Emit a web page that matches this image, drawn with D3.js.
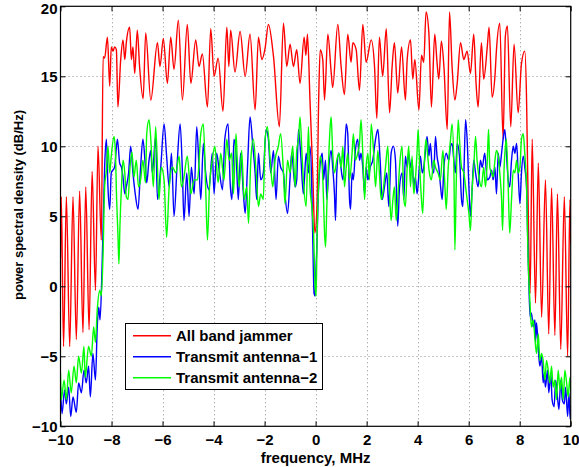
<!DOCTYPE html>
<html><head><meta charset="utf-8">
<script src="https://cdn.jsdelivr.net/npm/d3@7/dist/d3.min.js"></script>
<style>
html,body{margin:0;padding:0;background:#fff;}
svg text{font-family:"Liberation Sans",Arial,Helvetica,sans-serif;font-weight:bold;}
</style></head>
<body>
<svg id="chart" width="579" height="467"></svg>
<script>
// ---- data ----
const seriesNames = ["All band jammer", "Transmit antenna\u22121", "Transmit antenna\u22122"];
const seriesColors = ["#ff0000", "#0000ff", "#00ff00"];
const xTicks = [-10,-8,-6,-4,-2,0,2,4,6,8,10];
const yTicks = [-10,-5,0,5,10,15,20];

const jammerFreq = [-10,-9.97,-9.88,-9.77,-9.64,-9.51,-9.38,-9.25,-9.12,-9.01,-8.88,-8.76,-8.63,-8.53,-8.40,-8.33,-8.27,-8.16,-8.07,-8.01,-7.94,-7.88,-7.81,-7.75,-7.64,-7.55,-7.48,-7.42,-7.29,-7.22,-7.16,-7.09,-6.99,-6.90,-6.76,-6.66,-6.46,-6.20,-6.10,-5.97,-5.81,-5.68,-5.55,-5.38,-5.22,-5.03,-4.89,-4.70,-4.57,-4.44,-4.24,-4.11,-3.98,-3.82,-3.63,-3.48,-3.40,-3.33,-3.16,-2.96,-2.76,-2.57,-2.37,-2.24,-2.11,-1.98,-1.85,-1.65,-1.42,-1.26,-1.13,-1.00,-0.87,-0.74,-0.61,-0.45,-0.38,-0.32,-0.22,-0.11,-0.03,0.05,0.12,0.18,0.28,0.35,0.48,0.61,0.67,0.87,1.00,1.13,1.26,1.39,1.46,1.59,1.72,1.85,1.98,2.18,2.31,2.40,2.50,2.63,2.77,2.90,3.00,3.09,3.22,3.37,3.52,3.59,3.72,3.81,3.89,4.05,4.15,4.24,4.33,4.44,4.54,4.67,4.76,4.83,4.93,5.03,5.16,5.25,5.35,5.46,5.55,5.68,5.81,5.94,6.07,6.20,6.29,6.37,6.50,6.59,6.73,6.80,6.92,7.03,7.09,7.22,7.35,7.44,7.52,7.65,7.78,7.94,8.07,8.20,8.27,8.31,8.41,8.49,8.62,8.73,8.86,9.01,9.14,9.25,9.38,9.48,9.61,9.75,9.88,9.97,10];
const jammerPSD = [2.0,6.4,-4.3,6.4,-4.3,6.4,-3.8,6.8,-3.3,7.1,-3.1,8.2,-0.3,10.0,3.3,16.4,16.3,17.8,14.3,17.1,16.8,17.1,16.9,12.8,16.2,17.6,16.2,17.4,18.5,16.2,17.1,15.2,18.3,15.7,13.4,18.1,13.3,17.4,15.7,17.7,14.5,17.8,15.5,19.0,13.3,18.7,14.5,17.6,15.7,16.6,12.8,18.4,15.0,16.3,12.5,18.5,15.7,18.3,15.3,18.2,15.0,18.0,12.6,17.8,16.2,17.0,18.7,16.4,11.4,18.8,15.7,17.3,15.7,16.9,14.5,17.8,16.5,18.0,13.3,8.0,3.8,5.5,13.3,16.9,16.2,13.3,18.0,15.3,14.2,18.7,15.7,13.7,18.0,16.0,17.4,16.9,14.0,18.7,16.0,17.6,15.7,12.0,17.8,15.0,18.4,12.4,15.7,17.4,13.8,17.1,13.3,16.2,17.6,14.8,16.2,12.6,16.5,16.0,19.6,18.1,12.8,18.0,16.0,14.8,17.5,15.7,11.2,19.6,15.7,13.3,14.5,17.4,16.2,16.8,15.2,18.0,14.5,12.8,17.4,14.8,17.1,18.5,13.5,15.0,16.9,18.8,10.5,17.9,18.6,11.4,17.3,12.4,15.9,16.8,13.3,8.6,-0.5,10.5,-1.2,8.8,-2.2,7.6,-3.4,7.0,-3.5,6.6,-4.5,6.4,-5.0,6.2,3.0];

const ant1Freq = [-10,-9.94,-9.84,-9.77,-9.68,-9.60,-9.51,-9.38,-9.29,-9.18,-9.08,-8.99,-8.90,-8.83,-8.73,-8.63,-8.56,-8.50,-8.45,-8.37,-8.32,-8.27,-8.20,-8.14,-8.07,-8.01,-7.88,-7.77,-7.68,-7.61,-7.55,-7.48,-7.42,-7.33,-7.25,-7.16,-7.07,-6.96,-6.86,-6.77,-6.67,-6.62,-6.53,-6.46,-6.40,-6.27,-6.20,-6.07,-5.94,-5.84,-5.74,-5.65,-5.55,-5.42,-5.31,-5.22,-5.16,-5.05,-4.96,-4.87,-4.76,-4.66,-4.57,-4.50,-4.40,-4.31,-4.18,-4.05,-3.98,-3.88,-3.78,-3.65,-3.56,-3.43,-3.35,-3.28,-3.20,-3.12,-3.03,-2.94,-2.83,-2.76,-2.67,-2.57,-2.46,-2.37,-2.31,-2.24,-2.15,-2.05,-1.94,-1.85,-1.76,-1.65,-1.55,-1.46,-1.37,-1.26,-1.20,-1.10,-1.00,-0.94,-0.80,-0.74,-0.67,-0.58,-0.48,-0.37,-0.28,-0.22,-0.15,-0.11,-0.06,-0.02,0.02,0.05,0.09,0.15,0.26,0.31,0.39,0.44,0.52,0.61,0.67,0.74,0.78,0.83,0.91,0.96,1.07,1.13,1.20,1.26,1.33,1.37,1.43,1.48,1.56,1.65,1.72,1.78,1.85,1.92,1.98,2.05,2.14,2.24,2.35,2.44,2.53,2.61,2.70,2.79,2.87,2.96,3.05,3.13,3.22,3.29,3.39,3.46,3.52,3.59,3.65,3.72,3.78,3.85,3.91,3.98,4.11,4.18,4.24,4.31,4.37,4.44,4.50,4.57,4.63,4.70,4.76,4.83,4.90,4.96,5.03,5.12,5.22,5.29,5.35,5.42,5.48,5.55,5.64,5.72,5.77,5.82,5.88,5.94,6.01,6.07,6.14,6.20,6.27,6.37,6.46,6.53,6.63,6.73,6.83,6.90,6.96,7.03,7.09,7.16,7.22,7.29,7.35,7.42,7.48,7.55,7.61,7.68,7.75,7.81,7.88,7.94,8.01,8.07,8.14,8.20,8.27,8.31,8.36,8.41,8.46,8.53,8.60,8.62,8.66,8.73,8.79,8.86,8.92,8.96,9.01,9.09,9.14,9.22,9.27,9.35,9.41,9.48,9.54,9.61,9.67,9.75,9.80,9.88,9.93,9.98,10];
const ant1PSD = [-7.2,-9.1,-7.4,-8.4,-7.2,-9.3,-7.9,-9.0,-6.9,-7.6,-6.0,-6.9,-5.7,-7.9,-4.8,-6.7,-2.9,-1.5,-2.4,1.4,5.0,8.5,10.5,7.1,5.5,8.1,8.5,10.5,8.8,8.5,7.8,6.6,7.1,8.1,10.0,8.1,6.6,5.5,8.5,10.5,8.5,7.4,9.0,9.7,8.1,10.7,6.2,8.5,11.6,9.3,7.1,9.5,5.0,9.0,11.6,8.1,4.7,8.1,5.0,8.5,6.6,11.4,8.5,6.2,10.2,8.1,6.9,9.5,6.6,9.5,8.3,6.9,10.5,11.6,7.4,6.2,10.5,9.5,6.2,9.5,6.6,5.2,8.5,12.1,10.0,8.1,6.2,9.5,7.6,8.1,11.2,10.5,8.1,9.7,6.2,9.3,8.5,8.1,6.6,5.2,7.8,9.5,7.1,7.6,11.2,9.3,6.6,9.5,8.1,10.0,7.1,3.3,-0.5,-0.7,1.5,2.8,5.7,8.1,9.5,7.6,9.0,6.2,8.5,9.7,8.5,6.6,4.7,8.1,9.5,9.0,7.6,9.0,11.6,10.9,6.2,5.5,8.1,7.6,9.7,10.5,9.0,9.5,8.5,6.6,8.5,7.6,8.5,9.0,10.5,11.2,9.0,6.2,7.1,8.1,5.7,9.5,10.0,9.0,4.3,7.1,8.1,6.2,9.3,8.5,9.5,8.5,9.0,7.1,7.8,6.6,9.3,8.1,8.5,9.7,10.7,9.3,10.2,8.5,8.1,10.7,9.3,8.5,7.1,6.2,8.5,9.5,9.0,10.0,10.2,9.0,8.1,10.2,9.3,6.2,5.7,8.5,11.9,10.5,7.1,5.0,7.1,9.0,8.1,7.1,9.0,8.5,9.5,7.6,7.8,8.3,7.6,8.5,6.6,9.5,8.5,9.5,10.5,11.2,9.5,7.6,7.1,9.0,10.0,9.5,10.2,8.1,5.9,8.1,9.3,8.5,7.1,3.8,0.2,-2.2,-1.9,-2.9,-2.4,-4.0,-2.6,-4.5,-5.7,-5.0,-6.9,-6.2,-7.2,-6.0,-7.6,-6.2,-8.1,-8.6,-6.7,-7.9,-8.8,-6.7,-8.1,-8.4,-7.2,-9.3,-7.6,-9.5,-8.5];

const ant2Freq = [-10,-9.97,-9.86,-9.77,-9.68,-9.58,-9.47,-9.38,-9.29,-9.18,-9.08,-9.03,-8.90,-8.79,-8.70,-8.63,-8.56,-8.46,-8.40,-8.33,-8.27,-8.20,-8.14,-8.07,-8.01,-7.90,-7.85,-7.80,-7.75,-7.71,-7.67,-7.61,-7.55,-7.48,-7.42,-7.35,-7.29,-7.20,-7.12,-7.03,-6.94,-6.86,-6.77,-6.67,-6.62,-6.53,-6.46,-6.36,-6.27,-6.14,-6.05,-5.94,-5.84,-5.74,-5.61,-5.48,-5.35,-5.26,-5.16,-5.03,-4.89,-4.76,-4.63,-4.50,-4.40,-4.31,-4.24,-4.16,-4.05,-3.95,-3.82,-3.72,-3.59,-3.48,-3.39,-3.29,-3.22,-3.12,-3.07,-2.99,-2.90,-2.80,-2.70,-2.63,-2.54,-2.44,-2.33,-2.24,-2.15,-2.05,-1.98,-1.89,-1.78,-1.68,-1.59,-1.46,-1.37,-1.26,-1.20,-1.10,-1.00,-0.90,-0.80,-0.74,-0.67,-0.61,-0.54,-0.48,-0.37,-0.28,-0.22,-0.15,-0.08,-0.02,0.02,0.06,0.12,0.18,0.26,0.31,0.35,0.39,0.44,0.52,0.57,0.61,0.67,0.74,0.83,0.91,1.00,1.07,1.13,1.20,1.26,1.33,1.43,1.48,1.56,1.65,1.72,1.78,1.85,1.92,1.98,2.05,2.11,2.18,2.27,2.35,2.44,2.50,2.57,2.63,2.74,2.83,2.90,2.96,3.03,3.09,3.16,3.22,3.29,3.39,3.46,3.52,3.59,3.65,3.72,3.78,3.85,3.91,3.98,4.02,4.07,4.15,4.20,4.28,4.33,4.41,4.46,4.54,4.63,4.70,4.80,4.89,4.99,5.07,5.12,5.20,5.29,5.35,5.42,5.46,5.51,5.59,5.64,5.72,5.81,5.88,5.94,6.01,6.07,6.14,6.20,6.27,6.33,6.42,6.50,6.59,6.66,6.73,6.78,6.83,6.90,6.96,7.03,7.09,7.16,7.22,7.29,7.33,7.39,7.44,7.48,7.55,7.61,7.68,7.75,7.81,7.88,7.94,8.01,8.07,8.14,8.20,8.27,8.33,8.40,8.46,8.53,8.60,8.66,8.73,8.79,8.86,8.92,8.99,9.05,9.12,9.18,9.25,9.31,9.38,9.44,9.51,9.58,9.64,9.71,9.77,9.84,9.90,9.97,10];
const ant2PSD = [-6.2,-8.1,-6.7,-8.1,-6.0,-7.6,-5.7,-6.9,-5.0,-6.2,-4.3,-6.5,-4.3,-5.0,-2.9,-4.0,-1.7,-0.3,-0.7,2.4,7.1,8.3,10.0,8.1,9.3,10.7,9.7,6.2,3.8,1.6,4.3,7.1,9.0,8.1,6.4,6.2,8.1,9.6,7.8,9.0,7.1,7.6,9.0,7.4,10.9,11.9,10.5,7.1,11.4,6.2,8.5,7.6,3.5,7.1,8.5,8.1,9.3,7.1,7.8,9.3,6.6,7.6,7.6,10.9,11.6,7.1,3.3,7.1,9.0,10.0,7.4,9.5,7.6,10.5,9.0,9.5,6.6,10.9,9.0,7.1,9.7,6.2,7.1,4.5,9.0,10.5,8.1,5.7,6.6,6.2,10.5,11.4,9.0,7.1,9.0,10.0,10.9,8.1,5.9,9.0,8.1,10.0,7.1,9.7,10.5,12.1,9.7,7.6,5.7,11.4,7.1,5.7,3.8,0.0,-0.7,3.8,7.4,9.3,8.5,6.2,3.8,2.8,5.7,9.5,11.4,12.1,9.5,8.1,9.0,9.5,8.5,10.0,7.1,8.5,9.5,7.6,9.5,10.9,9.0,9.5,10.2,11.9,9.5,6.2,8.5,9.5,7.6,11.6,9.7,7.1,9.7,8.1,6.2,6.6,8.5,10.0,6.6,4.7,6.2,7.1,4.7,6.2,8.5,10.0,6.2,5.7,8.5,10.0,7.1,9.3,6.6,7.6,9.7,11.2,9.0,6.2,5.2,9.5,10.5,9.0,8.1,7.6,9.0,8.5,8.1,7.6,9.7,7.1,5.5,8.5,10.5,11.6,8.5,2.6,7.1,11.9,10.5,8.5,8.1,7.1,6.2,5.2,4.0,7.1,8.5,10.7,9.0,7.6,7.1,8.5,7.1,9.0,11.2,8.5,8.1,7.8,9.0,9.7,9.3,8.1,6.2,4.0,8.5,10.0,10.5,7.1,3.8,6.2,8.3,8.1,9.0,8.1,8.5,10.5,10.9,9.5,7.1,1.9,-1.0,-2.9,-2.4,-3.8,-4.8,-3.4,-5.3,-4.8,-5.3,-6.7,-5.3,-6.0,-6.9,-5.7,-7.2,-6.7,-8.1,-6.0,-7.4,-6.5,-8.1,-6.0,-6.9,-7.9,-6.5,-7.5];

// ---- chart ----
const W = 579, H = 467;
const m = {left: 60.5, right: 8.3, top: 6.3, bottom: 40.7};
const svg = d3.select("#chart");
const x = d3.scaleLinear().domain([-10, 10]).range([m.left, W - m.right]);
const y = d3.scaleLinear().domain([-10, 20]).range([H - m.bottom, m.top]);

svg.append("defs").append("clipPath").attr("id", "clip")
  .append("rect").attr("x", m.left).attr("y", m.top)
  .attr("width", x(10) - x(-10)).attr("height", y(-10) - y(20));

// grid
const grid = svg.append("g").attr("stroke", "#000").attr("stroke-width", 0.8)
  .attr("stroke-dasharray", "1,3").attr("opacity", 0.55);
grid.selectAll("line.gx").data(xTicks.slice(1, -1)).join("line")
  .attr("x1", d => Math.round(x(d)) + 0.5).attr("x2", d => Math.round(x(d)) + 0.5)
  .attr("y1", y(20)).attr("y2", y(-10));
grid.selectAll("line.gy").data(yTicks.slice(1, -1)).join("line")
  .attr("y1", d => Math.round(y(d)) + 0.5).attr("y2", d => Math.round(y(d)) + 0.5)
  .attr("x1", x(-10)).attr("x2", x(10));

// lines
const series = [
  {f: jammerFreq, v: jammerPSD},
  {f: ant1Freq, v: ant1PSD},
  {f: ant2Freq, v: ant2PSD}
];
const line = d3.line().x(d => x(d[0])).y(d => y(d[1])).curve(d3.curveMonotoneX);
const lg = svg.append("g").attr("clip-path", "url(#clip)");
series.forEach((s, i) => {
  lg.append("path")
    .datum(s.f.map((f, k) => [f, s.v[k]]))
    .attr("d", line)
    .attr("fill", "none")
    .attr("stroke", seriesColors[i])
    .attr("stroke-width", 1.4)
    .attr("stroke-linejoin", "round");
});

// axes
const fmt = d3.format("d");
const ax = svg.append("g");
ax.append("g").attr("transform", `translate(0,${y(-10)})`)
  .call(d3.axisBottom(x).tickValues(xTicks).tickFormat(fmt).tickSizeInner(-5).tickSizeOuter(0).tickPadding(8));
ax.append("g").attr("transform", `translate(0,${y(20)})`)
  .call(d3.axisTop(x).tickValues(xTicks).tickFormat("").tickSizeInner(-5).tickSizeOuter(0));
const yAx = ax.append("g").attr("transform", `translate(${x(-10)},0)`)
  .call(d3.axisLeft(y).tickValues(yTicks).tickFormat(fmt).tickSizeInner(-5).tickSizeOuter(0).tickPadding(3));
ax.append("g").attr("transform", `translate(${x(10)},0)`)
  .call(d3.axisRight(y).tickValues(yTicks).tickFormat("").tickSizeInner(-5).tickSizeOuter(0));
ax.selectAll(".domain").remove();
ax.selectAll("text").attr("font-size", 15).attr("fill", "#000")
  .style("font-family", '"Liberation Sans",Arial,sans-serif').style("font-weight", "bold");
ax.selectAll(".tick line").attr("stroke", "#000");
// keep the top label inside the figure, as the reference does
yAx.selectAll(".tick text").filter(d => d === 20).attr("dy", "0.5em");

// box
svg.append("rect").attr("x", x(-10)).attr("y", y(20))
  .attr("width", x(10) - x(-10)).attr("height", y(-10) - y(20))
  .attr("fill", "none").attr("stroke", "#000").attr("stroke-width", 1.2);

// axis titles
svg.append("text").attr("x", (x(-10) + x(10)) / 2).attr("y", 462.5)
  .attr("text-anchor", "middle").attr("font-size", 15).text("frequency, MHz");
svg.append("text").attr("transform", "translate(22.5,205) rotate(-90)")
  .attr("text-anchor", "middle").attr("font-size", 13).text("power spectral density (dB/Hz)");

// legend
const leg = svg.append("g");
leg.append("rect").attr("x", 125.5).attr("y", 323.5).attr("width", 197).attr("height", 66)
  .attr("fill", "#fff").attr("stroke", "#000").attr("stroke-width", 1);
seriesNames.forEach((n, i) => {
  const yy = 335.7 + i * 21;
  leg.append("line").attr("x1", 133).attr("x2", 171).attr("y1", yy).attr("y2", yy)
    .attr("stroke", seriesColors[i]).attr("stroke-width", 1.4);
  leg.append("text").attr("x", 176).attr("y", yy).attr("dy", "0.35em")
    .attr("font-size", 15).text(n);
});
</script>
</body></html>
